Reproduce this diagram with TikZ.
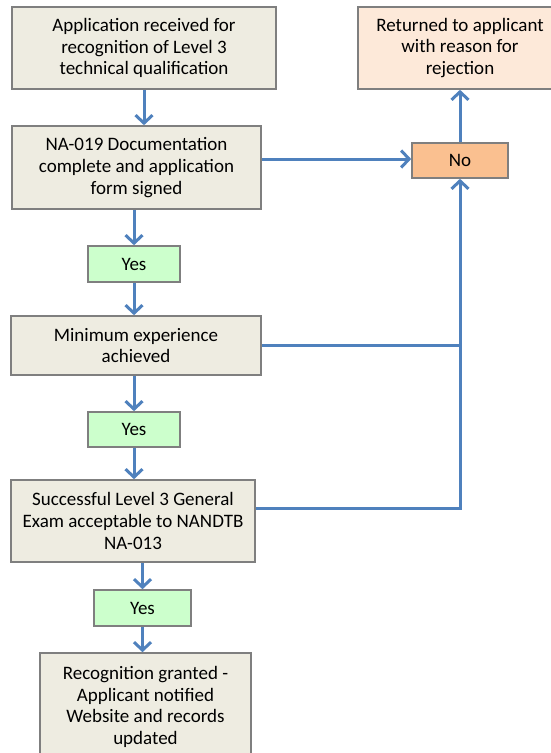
\documentclass[tikz,border=0pt]{standalone}
\usepackage{fontspec}
\setmainfont{Carlito}
\usetikzlibrary{arrows.meta,calc}
\definecolor{boxfill}{HTML}{EEECE1}
\definecolor{boxline}{HTML}{7F7F7F}
\definecolor{retfill}{HTML}{FDE9D9}
\definecolor{nofill}{HTML}{FAC090}
\definecolor{yesfill}{HTML}{CCFFCC}
\definecolor{flow}{HTML}{4F81BD}
\tikzset{
  base/.style={draw=boxline, line width=1.6pt, align=center, inner sep=2pt,
    font=\fontsize{19pt}{21.8pt}\selectfont},
  stepbox/.style={base, fill=boxfill},
  retbox/.style={base, fill=retfill},
  nobox/.style={base, fill=nofill},
  yesbox/.style={base, fill=yesfill},
  flowline/.style={draw=flow, line width=3pt, -{Straight Barb[length=8pt,width=17pt,line width=3pt]}},
  plainline/.style={draw=flow, line width=3pt},
}
\begin{document}
\begin{tikzpicture}[x=1pt,y=-1pt]
\useasboundingbox (0,0) rectangle (551,753);
\clip (0,0) rectangle (551,753);
\node[stepbox, minimum width=264pt, minimum height=82pt] (b1) at (144,48)
  {Application received for\\recognition of Level 3\\technical qualification};
\node[stepbox, minimum width=249pt, minimum height=83pt] (b2) at (136.5,167.5)
  {NA-019 Documentation\\complete and application\\form signed};
\node[nobox, minimum width=96pt, minimum height=35pt] (no) at (460,160.5) {No};
\node[retbox, minimum width=204pt, minimum height=82pt] (ret) at (460,48)
  {Returned to applicant\\with reason for\\rejection};
\node[yesbox, minimum width=92pt, minimum height=36pt] (y1) at (134,264) {Yes};
\node[stepbox, minimum width=250pt, minimum height=59pt] (b3) at (136,345.5)
  {Minimum experience\\achieved};
\node[yesbox, minimum width=92pt, minimum height=35pt] (y2) at (134,429.5) {Yes};
\node[stepbox, minimum width=244pt, minimum height=82pt] (b4) at (133,521)
  {Successful Level 3 General\\Exam acceptable to NANDTB\\NA-013};
\node[yesbox, minimum width=97pt, minimum height=36pt] (y3) at (142.5,608) {Yes};
\node[stepbox, minimum width=211pt, minimum height=108pt] (b5) at (145.5,707)
  {Recognition granted -\\Applicant notified\\Website and records\\updated};

\draw[flowline] (b1.south) -- (b1.south |- b2.north);
\draw[flowline] (y1.north |- b2.south) -- (y1.north);
\draw[flowline] (y1.south) -- (y1.south |- b3.north);
\draw[flowline] (y2.north |- b3.south) -- (y2.north);
\draw[flowline] (y2.south) -- (y2.south |- b4.north);
\draw[flowline] (y3.north |- b4.south) -- (y3.north);
\draw[flowline] (y3.south) -- (y3.south |- b5.north);
\draw[flowline] ([yshift=1.5pt]b2.east |- no.west) -- ([yshift=1.5pt]no.west);
\draw[flowline] (no.north) -- (ret.south);
\coordinate (j4) at ([yshift=13pt]b4.east);
\draw[flowline] (j4) -- (no.south |- j4) -- (no.south);
\draw[plainline] (b3.east) -- (no.south |- b3.east);
\end{tikzpicture}
\end{document}
